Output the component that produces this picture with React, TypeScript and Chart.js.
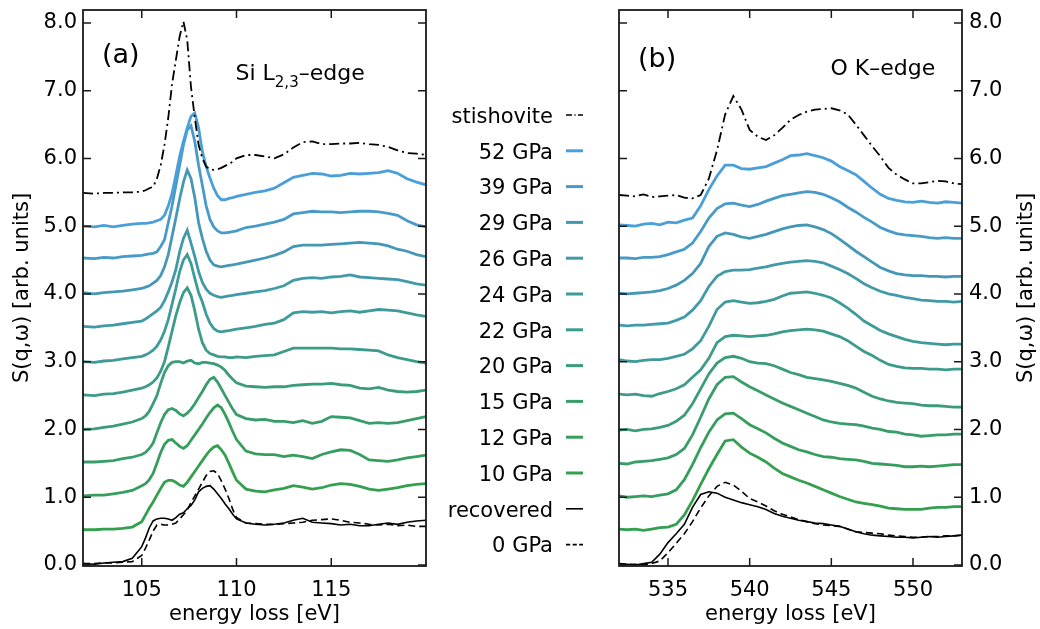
import React, { useEffect, useRef } from "react";
import { Chart, registerables } from "chart.js";

Chart.register(...registerables);

const FONT_FAMILY = "'DejaVu Sans', sans-serif";

// ---------- tick values ----------
const Y_TICKS = [0, 1, 2, 3, 4, 5, 6, 7, 8];
const SI_X_TICKS = [105, 110, 115];
const O_X_TICKS = [535, 540, 545, 550];

// ---------- series ----------
const SERIES_LABELS = [
  "stishovite", "52 GPa", "39 GPa", "29 GPa", "26 GPa", "24 GPa", "22 GPa",
  "20 GPa", "15 GPa", "12 GPa", "10 GPa", "recovered", "0 GPa",
];
const SERIES_COLORS = [
  "#000000", "#4b9fd8", "#489bc8", "#4597b6", "#429aa8", "#3f9b9a", "#3c9b8a",
  "#3a9c7a", "#389d6b", "#369e5d", "#359f50", "#000000", "#000000",
];
const SERIES_WIDTHS = [1.8, 2.8, 2.8, 2.8, 2.8, 2.8, 2.8, 2.8, 2.8, 2.8, 2.8, 1.6, 1.6];
const SERIES_DASHES: number[][] = [
  [10, 4, 2, 4], [], [], [], [], [], [], [], [], [], [], [], [7, 4],
];

// ---------- (a) Si L2,3-edge ----------
const SI_E = [101.9, 102.5, 103, 103.5, 104, 104.5,
  105, 105.2, 105.4, 105.6, 105.8, 106, 106.2, 106.4, 106.6, 106.8, 107, 107.2, 107.4, 107.6, 107.8,
  108, 108.2, 108.4, 108.6, 108.8, 109, 109.2, 109.4, 109.6, 109.8, 110,
  110.5, 111, 111.5, 112, 112.5, 113, 113.5, 114, 114.5, 115, 115.5, 116, 116.5, 117, 117.5, 118, 118.5, 119, 119.5, 120];

const SI_STISH = [5.49, 5.48, 5.49, 5.49, 5.50, 5.50,
  5.51, 5.53, 5.56, 5.58, 5.70, 5.90, 6.20, 6.60, 7.10, 7.45, 7.80, 8.02, 7.75, 7.05, 6.60,
  6.20, 6.00, 5.88, 5.84, 5.83, 5.84, 5.86, 5.89, 5.92, 5.95, 6.00,
  6.05, 6.05, 6.03, 6.00, 6.06, 6.16, 6.24, 6.25, 6.21, 6.21, 6.22, 6.22, 6.23, 6.21, 6.20, 6.17, 6.12, 6.08, 6.07, 6.05];
const SI_52 = [5.00, 4.99, 5.01, 4.99, 5.01, 5.03,
  5.04, 5.04, 5.05, 5.06, 5.08, 5.10, 5.16, 5.30, 5.48, 5.75, 6.03, 6.25, 6.45, 6.62, 6.67,
  6.45, 6.10, 5.88, 5.71, 5.56, 5.45, 5.39, 5.39, 5.41, 5.42, 5.44,
  5.47, 5.50, 5.52, 5.56, 5.64, 5.72, 5.75, 5.78, 5.77, 5.74, 5.75, 5.78, 5.77, 5.78, 5.79, 5.82, 5.78, 5.70, 5.65, 5.61];
const SI_39 = [4.53, 4.52, 4.54, 4.53, 4.55, 4.56,
  4.57, 4.58, 4.59, 4.60, 4.62, 4.70, 4.80, 5.05, 5.30, 5.60, 5.90, 6.20, 6.42, 6.48, 6.25,
  5.90, 5.60, 5.30, 5.10, 4.99, 4.93, 4.90, 4.90, 4.91, 4.92, 4.93,
  4.98, 5.00, 5.03, 5.06, 5.10, 5.18, 5.20, 5.22, 5.21, 5.21, 5.20, 5.21, 5.22, 5.22, 5.21, 5.19, 5.16, 5.08, 5.02, 4.99];
const SI_29 = [4.02, 4.00, 4.02, 4.03, 4.04, 4.06,
  4.08, 4.10, 4.12, 4.16, 4.20, 4.27, 4.40, 4.58, 4.85, 5.12, 5.40, 5.65, 5.83, 5.70, 5.42,
  5.05, 4.82, 4.63, 4.50, 4.43, 4.41, 4.40, 4.41, 4.42, 4.43, 4.44,
  4.47, 4.50, 4.53, 4.57, 4.62, 4.70, 4.72, 4.72, 4.72, 4.73, 4.74, 4.75, 4.76, 4.75, 4.74, 4.71, 4.66, 4.63, 4.58, 4.55];
const SI_26 = [3.52, 3.51, 3.53, 3.54, 3.56, 3.58,
  3.60, 3.63, 3.67, 3.71, 3.75, 3.80, 3.90, 4.03, 4.18, 4.36, 4.62, 4.82, 4.94, 4.75, 4.55,
  4.33, 4.17, 4.07, 4.01, 3.98, 3.96, 3.95, 3.96, 3.97, 3.98, 3.99,
  4.01, 4.03, 4.05, 4.08, 4.12, 4.20, 4.23, 4.24, 4.23, 4.25, 4.26, 4.28, 4.25, 4.24, 4.23, 4.22, 4.21, 4.18, 4.15, 4.13];
const SI_24 = [3.00, 2.99, 3.01, 3.02, 3.04, 3.06,
  3.08, 3.10, 3.13, 3.17, 3.23, 3.32, 3.45, 3.62, 3.85, 4.08, 4.33, 4.50, 4.58, 4.45, 4.23,
  4.02, 3.88, 3.70, 3.57, 3.49, 3.45, 3.44, 3.45, 3.46, 3.47, 3.48,
  3.50, 3.52, 3.55, 3.57, 3.62, 3.72, 3.74, 3.73, 3.74, 3.72, 3.74, 3.75, 3.73, 3.75, 3.77, 3.76, 3.75, 3.72, 3.69, 3.67];
const SI_22 = [2.51, 2.50, 2.52, 2.53, 2.55, 2.58,
  2.61, 2.63, 2.66, 2.70, 2.76, 2.86, 3.00, 3.22, 3.45, 3.68, 3.87, 4.02, 4.09, 3.98, 3.75,
  3.48, 3.28, 3.17, 3.12, 3.10, 3.08, 3.07, 3.07, 3.06, 3.06, 3.07,
  3.06, 3.08, 3.09, 3.10, 3.15, 3.20, 3.20, 3.20, 3.20, 3.20, 3.19, 3.19, 3.18, 3.17, 3.16, 3.10, 3.06, 3.03, 3.00, 2.98];
const SI_20 = [2.00, 2.01, 2.03, 2.05, 2.08, 2.11,
  2.16, 2.20, 2.27, 2.38, 2.50, 2.68, 2.84, 2.94, 2.99, 3.00, 3.00, 2.98, 3.01, 3.02, 2.98,
  2.97, 2.99, 2.99, 2.98, 2.97, 2.95, 2.92, 2.87, 2.80, 2.74, 2.69,
  2.64, 2.63, 2.62, 2.63, 2.63, 2.65, 2.66, 2.67, 2.67, 2.68, 2.66, 2.65, 2.61, 2.60, 2.62, 2.58, 2.56, 2.55, 2.56, 2.58];
const SI_15 = [1.52, 1.52, 1.53, 1.54, 1.57, 1.59,
  1.63, 1.66, 1.72, 1.80, 1.95, 2.10, 2.22, 2.29, 2.31, 2.28, 2.23, 2.20, 2.24, 2.30, 2.38,
  2.47, 2.56, 2.66, 2.74, 2.77, 2.70, 2.60, 2.50, 2.40, 2.30, 2.22,
  2.16, 2.14, 2.15, 2.12, 2.12, 2.10, 2.13, 2.09, 2.12, 2.19, 2.18, 2.17, 2.13, 2.09, 2.10, 2.09, 2.10, 2.13, 2.16, 2.19];
const SI_12 = [1.02, 1.03, 1.03, 1.05, 1.07, 1.10,
  1.17, 1.20, 1.26, 1.35, 1.50, 1.66, 1.78, 1.84, 1.85, 1.80, 1.75, 1.72, 1.76, 1.84, 1.92,
  2.00, 2.08, 2.17, 2.25, 2.32, 2.36, 2.32, 2.22, 2.10, 1.97, 1.85,
  1.68, 1.64, 1.63, 1.63, 1.60, 1.62, 1.60, 1.57, 1.63, 1.67, 1.70, 1.69, 1.63, 1.55, 1.54, 1.53, 1.55, 1.58, 1.60, 1.62];
const SI_10 = [0.52, 0.52, 0.53, 0.53, 0.54, 0.56,
  0.64, 0.74, 0.84, 0.93, 1.03, 1.13, 1.22, 1.25, 1.25, 1.22, 1.18, 1.16, 1.22, 1.30, 1.38,
  1.46, 1.54, 1.62, 1.69, 1.74, 1.76, 1.70, 1.62, 1.50, 1.37, 1.25,
  1.12, 1.09, 1.08, 1.11, 1.13, 1.17, 1.15, 1.12, 1.14, 1.18, 1.20, 1.19, 1.16, 1.12, 1.10, 1.12, 1.14, 1.17, 1.19, 1.20];
const SI_REC = [0.02, 0.01, 0.03, 0.04, 0.05, 0.10,
  0.27, 0.40, 0.55, 0.65, 0.68, 0.69, 0.69, 0.68, 0.66, 0.70, 0.75, 0.77, 0.83, 0.88, 0.96,
  1.08, 1.13, 1.16, 1.17, 1.12, 1.05, 0.98, 0.90, 0.83, 0.75, 0.68,
  0.62, 0.60, 0.59, 0.60, 0.62, 0.66, 0.69, 0.63, 0.62, 0.61, 0.59, 0.60, 0.58, 0.58, 0.60, 0.62, 0.60, 0.63, 0.65, 0.66];
const SI_0 = [0.02, 0.02, 0.03, 0.03, 0.04, 0.05,
  0.14, 0.25, 0.37, 0.50, 0.59, 0.60, 0.59, 0.59, 0.60, 0.62, 0.68, 0.74, 0.81, 0.92, 1.02,
  1.12, 1.22, 1.32, 1.38, 1.39, 1.35, 1.24, 1.12, 0.98, 0.82, 0.70,
  0.62, 0.61, 0.60, 0.60, 0.61, 0.62, 0.63, 0.66, 0.67, 0.68, 0.66, 0.63, 0.62, 0.60, 0.59, 0.60, 0.58, 0.59, 0.57, 0.57];

// ---------- (b) O K-edge ----------
const O_E = [532, 532.5, 533, 533.5, 534, 534.5, 535, 535.5, 536, 536.5,
  537, 537.5, 538, 538.5, 539, 539.5, 540, 540.5, 541, 541.5,
  542, 542.5, 543, 543.5, 544, 544.5, 545, 545.5, 546, 546.5,
  547, 547.5, 548, 548.5, 549, 549.5, 550, 550.5, 551, 551.5,
  552, 552.5, 553];

const O_STISH = [5.46, 5.45, 5.44, 5.47, 5.43, 5.44, 5.45, 5.46, 5.42, 5.41,
  5.46, 5.70, 6.12, 6.65, 6.92, 6.72, 6.42, 6.32, 6.27, 6.34,
  6.45, 6.57, 6.64, 6.69, 6.72, 6.73, 6.74, 6.71, 6.65, 6.50,
  6.34, 6.18, 6.03, 5.86, 5.76, 5.69, 5.63, 5.63, 5.65, 5.67,
  5.66, 5.63, 5.62];
const O_52 = [5.02, 5.01, 5.00, 5.03, 5.04, 5.02, 5.06, 5.05, 5.09, 5.12,
  5.30, 5.54, 5.74, 5.90, 5.90, 5.85, 5.84, 5.86, 5.88, 5.93,
  5.98, 6.04, 6.05, 6.07, 6.04, 6.01, 5.96, 5.88, 5.82, 5.76,
  5.66, 5.56, 5.47, 5.41, 5.38, 5.36, 5.35, 5.37, 5.35, 5.34,
  5.36, 5.35, 5.34];
const O_39 = [4.53, 4.53, 4.52, 4.54, 4.54, 4.55, 4.58, 4.62, 4.66, 4.75,
  4.92, 5.12, 5.26, 5.33, 5.34, 5.31, 5.29, 5.32, 5.37, 5.41,
  5.45, 5.47, 5.49, 5.51, 5.50, 5.47, 5.42, 5.36, 5.28, 5.21,
  5.13, 5.06, 4.98, 4.93, 4.89, 4.87, 4.86, 4.85, 4.83, 4.82,
  4.83, 4.82, 4.82];
const O_29 = [4.01, 4.00, 4.01, 4.02, 4.03, 4.05, 4.08, 4.13, 4.20, 4.30,
  4.45, 4.70, 4.85, 4.90, 4.88, 4.84, 4.82, 4.85, 4.88, 4.92,
  4.96, 4.99, 5.01, 5.02, 4.99, 4.95, 4.89, 4.81, 4.72, 4.63,
  4.55, 4.47, 4.39, 4.34, 4.30, 4.28, 4.27, 4.27, 4.26, 4.26,
  4.25, 4.26, 4.26];
const O_26 = [3.54, 3.53, 3.54, 3.54, 3.55, 3.56, 3.57, 3.61, 3.66, 3.76,
  3.90, 4.11, 4.26, 4.33, 4.35, 4.35, 4.36, 4.38, 4.40, 4.43,
  4.45, 4.47, 4.48, 4.49, 4.48, 4.46, 4.41, 4.36, 4.30, 4.23,
  4.15, 4.09, 4.04, 4.00, 3.98, 3.95, 3.93, 3.91, 3.90, 3.89,
  3.89, 3.88, 3.89];
const O_24 = [3.03, 3.01, 3.00, 3.02, 3.03, 3.03, 3.05, 3.08, 3.11, 3.19,
  3.31, 3.52, 3.77, 3.88, 3.90, 3.88, 3.86, 3.87, 3.89, 3.92,
  3.97, 4.01, 4.02, 4.03, 4.01, 3.98, 3.94, 3.87, 3.79, 3.70,
  3.60, 3.53, 3.46, 3.41, 3.37, 3.33, 3.30, 3.28, 3.27, 3.26,
  3.25, 3.26, 3.26];
const O_22 = [2.52, 2.51, 2.52, 2.50, 2.49, 2.53, 2.56, 2.60, 2.66, 2.77,
  2.88, 3.05, 3.28, 3.37, 3.39, 3.38, 3.37, 3.38, 3.39, 3.41,
  3.44, 3.46, 3.47, 3.48, 3.47, 3.45, 3.41, 3.37, 3.31, 3.23,
  3.15, 3.09, 3.02, 2.96, 2.93, 2.91, 2.90, 2.90, 2.89, 2.89,
  2.88, 2.89, 2.89];
const O_20 = [1.99, 2.00, 1.98, 2.00, 2.01, 2.03, 2.06, 2.12, 2.21, 2.38,
  2.60, 2.82, 2.98, 3.06, 3.08, 3.05, 3.00, 2.98, 2.97, 2.94,
  2.89, 2.84, 2.81, 2.77, 2.75, 2.73, 2.71, 2.68, 2.65, 2.61,
  2.55, 2.49, 2.45, 2.42, 2.40, 2.39, 2.38, 2.36, 2.35, 2.35,
  2.34, 2.33, 2.33];
const O_15 = [1.50, 1.49, 1.52, 1.53, 1.54, 1.56, 1.58, 1.63, 1.72, 1.92,
  2.18, 2.45, 2.66, 2.77, 2.78, 2.70, 2.63, 2.57, 2.51, 2.45,
  2.39, 2.34, 2.29, 2.24, 2.19, 2.14, 2.11, 2.09, 2.08, 2.07,
  2.05, 2.02, 2.00, 1.97, 1.96, 1.93, 1.92, 1.90, 1.91, 1.92,
  1.92, 1.93, 1.93];
const O_12 = [1.02, 1.00, 1.01, 1.02, 1.01, 1.03, 1.05, 1.11, 1.26, 1.48,
  1.73, 1.96, 2.14, 2.23, 2.24, 2.16, 2.07, 2.01, 1.95, 1.87,
  1.80, 1.75, 1.70, 1.67, 1.63, 1.60, 1.59, 1.57, 1.56, 1.55,
  1.53, 1.50, 1.49, 1.48, 1.47, 1.45, 1.45, 1.46, 1.45, 1.46,
  1.47, 1.48, 1.48];
const O_10 = [0.53, 0.52, 0.53, 0.51, 0.53, 0.55, 0.56, 0.60, 0.74, 0.95,
  1.19, 1.42, 1.63, 1.83, 1.85, 1.74, 1.65, 1.59, 1.52, 1.43,
  1.35, 1.30, 1.25, 1.21, 1.16, 1.11, 1.06, 1.01, 0.97, 0.93,
  0.91, 0.89, 0.87, 0.84, 0.83, 0.82, 0.82, 0.82, 0.84, 0.85,
  0.85, 0.86, 0.86];
const O_REC = [0.02, 0.01, 0.00, 0.02, 0.04, 0.16, 0.33, 0.46, 0.60, 0.85,
  1.04, 1.08, 1.06, 1.00, 0.96, 0.92, 0.89, 0.86, 0.82, 0.76,
  0.72, 0.69, 0.66, 0.64, 0.62, 0.61, 0.59, 0.57, 0.53, 0.49,
  0.46, 0.44, 0.43, 0.42, 0.41, 0.41, 0.40, 0.41, 0.42, 0.41,
  0.42, 0.43, 0.44];
const O_0 = [0.02, 0.01, 0.01, 0.00, 0.02, 0.06, 0.18, 0.32, 0.46, 0.64,
  0.84, 1.02, 1.16, 1.22, 1.18, 1.09, 0.98, 0.93, 0.87, 0.80,
  0.75, 0.71, 0.67, 0.64, 0.61, 0.59, 0.58, 0.57, 0.53, 0.49,
  0.48, 0.47, 0.46, 0.44, 0.43, 0.42, 0.41, 0.41, 0.42, 0.42,
  0.43, 0.43, 0.44];

const SI_SERIES = [SI_STISH, SI_52, SI_39, SI_29, SI_26, SI_24, SI_22, SI_20, SI_15, SI_12, SI_10, SI_REC, SI_0];
const O_SERIES = [O_STISH, O_52, O_39, O_29, O_26, O_24, O_22, O_20, O_15, O_12, O_10, O_REC, O_0];

// ---------- plugin: full frame + inward ticks on all four sides ----------
const frameTicks = {
  id: "frameTicks",
  afterDatasetsDraw(chart: any) {
    const { ctx, chartArea: a, scales } = chart;
    const xs = scales.x;
    const ys = scales.y;
    const L = 8;
    ctx.save();
    ctx.setLineDash([]);
    ctx.strokeStyle = "#1a1a1a";
    ctx.lineWidth = 1.5;
    ctx.beginPath();
    xs.ticks.forEach((t: any) => {
      const p = xs.getPixelForValue(t.value);
      ctx.moveTo(p, a.bottom);
      ctx.lineTo(p, a.bottom - L);
      ctx.moveTo(p, a.top);
      ctx.lineTo(p, a.top + L);
    });
    ys.ticks.forEach((t: any) => {
      const p = ys.getPixelForValue(t.value);
      ctx.moveTo(a.left, p);
      ctx.lineTo(a.left + L, p);
      ctx.moveTo(a.right, p);
      ctx.lineTo(a.right - L, p);
    });
    ctx.stroke();
    ctx.lineWidth = 1.8;
    ctx.strokeRect(a.left, a.top, a.right - a.left, a.bottom - a.top);
    ctx.restore();
  },
};

function makeConfig(
  energies: number[],
  series: number[][],
  xMin: number,
  xMax: number,
  xTicks: number[],
  yPosition: "left" | "right",
  yWidth: number,
  padding: any
): any {
  const font = { family: FONT_FAMILY, size: 21 };
  const datasets = series.map((vals, i) => ({
    label: SERIES_LABELS[i],
    data: vals.map((y, j) => ({ x: energies[j], y })),
    borderColor: SERIES_COLORS[i],
    backgroundColor: SERIES_COLORS[i],
    borderWidth: SERIES_WIDTHS[i],
    borderDash: SERIES_DASHES[i],
    pointRadius: 0,
    fill: false,
    tension: 0,
  }));
  return {
    type: "line",
    data: { datasets },
    options: {
      animation: false,
      responsive: false,
      maintainAspectRatio: false,
      events: [],
      layout: { padding },
      plugins: { legend: { display: false }, tooltip: { enabled: false } },
      scales: {
        x: {
          type: "linear",
          min: xMin,
          max: xMax,
          grid: { display: false, drawTicks: false },
          border: { display: false },
          afterBuildTicks: (s: any) => {
            s.ticks = xTicks.map((v) => ({ value: v }));
          },
          afterFit: (s: any) => {
            s.height = 63;
            s.paddingLeft = 0;
            s.paddingRight = 0;
          },
          ticks: {
            font,
            color: "#000",
            padding: 12,
            maxRotation: 0,
            autoSkip: false,
            callback: (v: any) => String(v),
          },
          title: {
            display: true,
            text: "energy loss [eV]",
            font,
            color: "#000",
            padding: { top: 0, bottom: 1.5 },
          },
        },
        y: {
          type: "linear",
          position: yPosition,
          min: -0.015,
          max: 8.19,
          grid: { display: false, drawTicks: false },
          border: { display: false },
          afterBuildTicks: (s: any) => {
            s.ticks = Y_TICKS.map((v) => ({ value: v }));
          },
          afterFit: (s: any) => {
            s.width = yWidth;
            s.paddingTop = 0;
            s.paddingBottom = 0;
          },
          ticks: {
            font,
            color: "#000",
            padding: yPosition === "left" ? 6 : 7,
            callback: (v: any) => Number(v).toFixed(1),
          },
          title: {
            display: yPosition === "left",
            text: "S(q,\u03c9) [arb. units]",
            font,
            color: "#000",
            padding: { top: 10, bottom: 0 },
          },
        },
      },
    },
    plugins: [frameTicks],
  };
}

const LEGEND_TEXT_X = 553;
const LEGEND_LINE_X1 = 566;
const LEGEND_LINE_X2 = 583;
const LEGEND_Y0 = 115;
const LEGEND_DY = 35.8;

export default function App() {
  const leftRef = useRef<HTMLCanvasElement | null>(null);
  const rightRef = useRef<HTMLCanvasElement | null>(null);

  useEffect(() => {
    document.body.style.margin = "0";
    const c1 = new Chart(
      leftRef.current as HTMLCanvasElement,
      makeConfig(SI_E, SI_SERIES, 101.9, 120.0, SI_X_TICKS, "left", 83, {
        top: 10, right: 14, left: 0, bottom: 0,
      })
    );
    const c2 = new Chart(
      rightRef.current as HTMLCanvasElement,
      makeConfig(O_E, O_SERIES, 532, 553, O_X_TICKS, "right", 78, {
        top: 10, right: 0, left: 29, bottom: 0,
      })
    );
    return () => {
      c1.destroy();
      c2.destroy();
    };
  }, []);

  return (
    <div style={{ position: "absolute", left: 0, top: 0, width: 1040, height: 629, background: "#fff", overflow: "hidden" }}>
      <canvas ref={leftRef} width={440} height={629} style={{ position: "absolute", left: 0, top: 0, width: 440, height: 629 }} />
      <canvas ref={rightRef} width={450} height={629} style={{ position: "absolute", left: 590, top: 0, width: 450, height: 629 }} />
      <svg width={1040} height={629} style={{ position: "absolute", left: 0, top: 0, pointerEvents: "none" }} fontFamily={FONT_FAMILY}>
        <text x={102} y={63} fontSize={27} fill="#000">(a)</text>
        <text x={235.5} y={80} fontSize={22} fill="#000">
          Si L<tspan fontSize={15} dy={7}>2,3</tspan><tspan dy={-7}>–edge</tspan>
        </text>
        <text x={638} y={67} fontSize={27} fill="#000">(b)</text>
        <text x={830.5} y={75} fontSize={22} fill="#000">O K–edge</text>
        <text transform="translate(1032,288) rotate(-90)" textAnchor="middle" fontSize={21} fill="#000">
          S(q,ω) [arb. units]
        </text>
        {SERIES_LABELS.map((lab, i) => {
          const y = LEGEND_Y0 + i * LEGEND_DY;
          return (
            <g key={lab}>
              <text x={LEGEND_TEXT_X} y={y + 7.7} fontSize={21} textAnchor="end" fill="#000">{lab}</text>
              <line
                x1={LEGEND_LINE_X1}
                x2={LEGEND_LINE_X2}
                y1={y}
                y2={y}
                stroke={SERIES_COLORS[i]}
                strokeWidth={SERIES_WIDTHS[i] > 2 ? 3 : 1.6}
                strokeDasharray={SERIES_DASHES[i].length ? SERIES_DASHES[i].map((d) => d * 0.6).join(" ") : undefined}
              />
            </g>
          );
        })}
      </svg>
    </div>
  );
}
